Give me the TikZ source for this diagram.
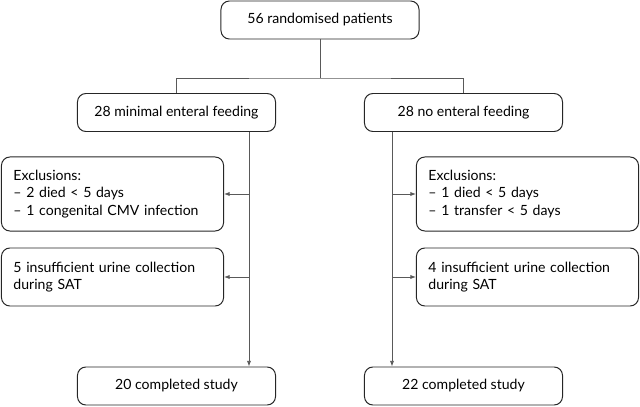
\documentclass[tikz,border=0pt]{standalone}
\usepackage{fontspec}
\setmainfont{Lato}
\usepackage{tikz}
\usetikzlibrary{arrows.meta,positioning}

\tikzset{
  flowbox/.style={draw=black!85, line width=0.7pt, rounded corners=6pt, minimum width=4.95cm, minimum height=0.95cm, align=center, font=\fontsize{10}{12.5}\selectfont},
  sidebox/.style={draw=black!85, line width=0.7pt, rounded corners=6pt, text width=4.95cm, inner xsep=0.3cm, align=left, font={\fontsize{10}{12.5}\selectfont\hyphenpenalty=10000\relax}},
  link/.style={draw=black!65, line width=0.6pt},
  arr/.style={link, -{Latex[length=4pt,width=3pt]}}
}

\begin{document}
\begin{tikzpicture}[x=0.025cm, y=-0.025cm]
\useasboundingbox (0,0) rectangle (640,407);

% randomisation
\node[flowbox] (rand) at (320,20) {56 randomised patients};

% the two arms
\node[flowbox] (armL) at (176.5,112.5) {28 minimal enteral feeding};
\node[flowbox] (armR) at (463.5,112.5) {28 no enteral feeding};

% exclusions
\node[sidebox, minimum height=1.85cm, anchor=west] (exclL) at (1,194) {Exclusions:\\ -- 2 died < 5 days\\ -- 1 congenital CMV infection};
\node[sidebox, minimum height=1.45cm, anchor=west] (satL) at (1,277) {5 insufficient urine collection\\ during SAT};
\node[sidebox, minimum height=1.85cm, anchor=east] (exclR) at (639,194) {Exclusions:\\ -- 1 died < 5 days\\ -- 1 transfer < 5 days};
\node[sidebox, minimum height=1.45cm, anchor=east] (satR) at (639,277) {4 insufficient urine collection\\ during SAT};

% completed
\node[flowbox] (doneL) at (176.5,386) {20 completed study};
\node[flowbox] (doneR) at (463.5,386) {22 completed study};

% split
\coordinate (split) at (320,78);
\draw[link] (rand.south) -- (split);
\draw[link] (armL.north) |- (split) -| (armR.north);

% flow lines down each arm
\coordinate (lineL) at (249,132);
\coordinate (lineR) at (392,132);
\draw[arr] (armL.south -| lineL) -- (doneL.north -| lineL);
\draw[arr] (armR.south -| lineR) -- (doneR.north -| lineR);

\draw[arr] (exclL.east -| lineL) -- (exclL.east);
\draw[arr] (satL.east -| lineL) -- (satL.east);
\draw[arr] (exclR.west -| lineR) -- (exclR.west);
\draw[arr] (satR.west -| lineR) -- (satR.west);

\end{tikzpicture}
\end{document}
